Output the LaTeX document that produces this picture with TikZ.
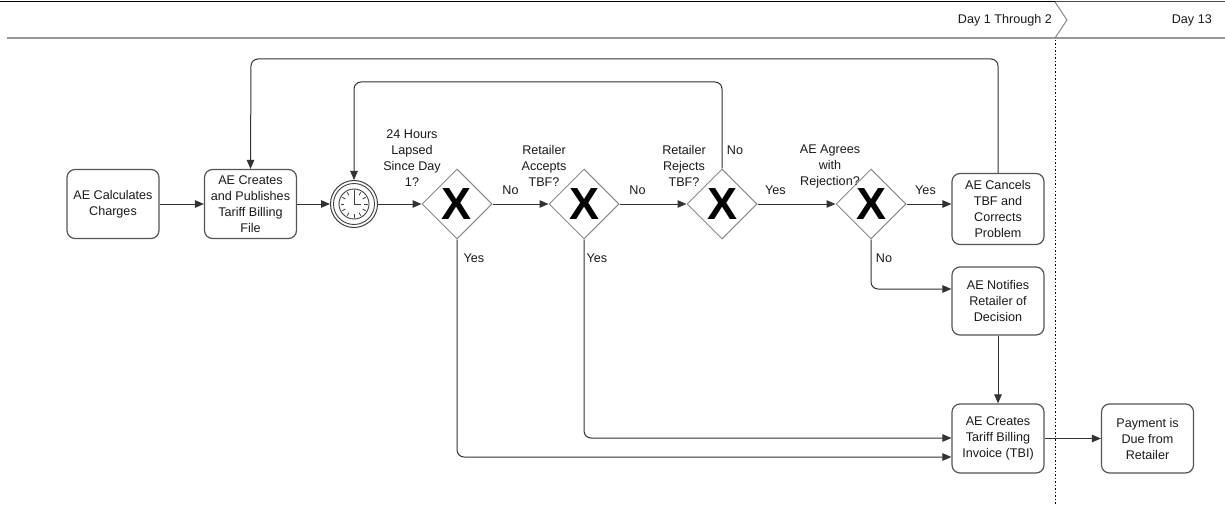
\documentclass[tikz,border=0pt]{standalone}
\usepackage{fontspec}
\setmainfont{Liberation Sans}
\usetikzlibrary{arrows.meta,calc,shapes.geometric}
\definecolor{boxc}{HTML}{555555}
\definecolor{gwc}{HTML}{8A8A8A}
\definecolor{linec}{HTML}{333333}
\definecolor{txtc}{HTML}{1A1A1A}
\begin{document}
\begin{tikzpicture}[x=1pt,y=-1pt,
  font=\fontsize{12.6}{16}\selectfont, text=txtc,
  task/.style={draw=boxc, line width=1.2pt, rounded corners=8pt, fill=white,
    minimum width=92pt, minimum height=69pt, align=center, inner sep=0pt},
  gw/.style={draw=gwc, line width=1pt, shape=diamond, aspect=1, fill=white,
    minimum width=70pt, minimum height=70pt, inner sep=0pt},
  gwx/.style={font=\fontsize{45}{45}\selectfont\bfseries, text=black, inner sep=0pt},
  flow/.style={draw=linec, line width=1pt, rounded corners=7pt,
    -{Triangle[length=9pt,width=7.5pt]}},
  lbl/.style={align=center, inner sep=0pt},
  flbl/.style={inner sep=0pt},
]
\useasboundingbox (0,0) rectangle (1225,505);
\fill[white] (0,0) rectangle (1225,505);

% header
\draw[line width=1.5pt, black] (0,1.5) -- (1055,1.5);
\draw[line width=0.8pt, black!70] (1055,1.5) -- (1225,1.5);
\draw[line width=1.8pt, gray!80] (7,38) -- (1225,38);
\draw[line width=0.9pt, gray] (1055,2) -- (1067,20) -- (1055,38);
\node[anchor=east, inner sep=0pt] (d12) at (1052,20) {Day 1 Through 2};
\node[anchor=east, inner sep=0pt] (d13) at (1212,20) {Day 13};
\coordinate (dtop) at (1055,40);
\coordinate (dbot) at (1055,505);
\draw[line width=1pt, black, dash pattern=on 1.5pt off 2pt] (dtop) -- (dbot);

% tasks
\node[task] (calc) at (113,204) {AE Calculates\\Charges};
\node[task] (pub) at (250.5,204) {AE Creates\\and Publishes\\Tariff Billing\\File};
\node[task, minimum height=71pt] (cancel) at (998,209) {AE Cancels\\TBF and\\Corrects\\Problem};
\node[task, minimum height=68pt] (notify) at (998,301) {AE Notifies\\Retailer of\\Decision};
\node[task] (tbi) at (998,438.5) {AE Creates\\Tariff Billing\\Invoice (TBI)};
\node[task] (pay) at (1147.5,438.5) {Payment is\\Due from\\Retailer};

% timer
\node[circle, draw=black!75, line width=1pt, minimum size=47pt, inner sep=0pt, fill=white] (timer) at (354,204) {};
\draw[black!75, line width=0.9pt] (timer.center) circle (20.5);
\draw[black!75, line width=0.9pt] (timer.center) circle (15);
\foreach \a in {0,30,...,330}
  \draw[black!75, line width=0.8pt] ($(timer.center)+(\a:10)$) -- ($(timer.center)+(\a:13.5)$);
\draw[black!75, line width=1pt] (timer.center) -- ++(0,-11);
\draw[black!75, line width=1pt] (timer.center) -- ++(7,0);

% gateways
\node[gw] (g1) at (457,204) {};
\node[gwx] (x1) at (g1.center) {X};
\node[gw] (g2) at (584,204) {};
\node[gwx] (x2) at (g2.center) {X};
\node[gw] (g3) at (722,204) {};
\node[gwx] (x3) at (g3.center) {X};
\node[gw] (g4) at (871,204) {};
\node[gwx] (x4) at (g4.center) {X};

% gateway labels
\node[lbl] (l1) at (412,158) {24 Hours\\Lapsed\\Since Day\\1?};
\node[lbl] (l2) at (544,166) {Retailer\\Accepts\\TBF?};
\node[lbl] (l3) at (684,166) {Retailer\\Rejects\\TBF?};
\node[lbl] (l4) at (830,166) {AE Agrees\\with\\Rejection?};

% flows
\draw[flow] (calc.east) -- (pub.west);
\draw[flow] (pub.east) -- (timer.west);
\draw[flow] (timer.east) -- (g1.west);
\draw[flow] (g1.east) -- (g2.west);
\node[flbl] (n1) at ($(g1.east)+(18,-14)$) {No};
\draw[flow] (g2.east) -- (g3.west);
\node[flbl] (n2) at ($(g2.east)+(18,-14)$) {No};
\draw[flow] (g3.east) -- (g4.west);
\node[flbl] (y3) at ($(g3.east)+(18,-14)$) {Yes};
\draw[flow] (g4.east) -- (g4.east -| cancel.west);
\node[flbl] (y4) at ($(g4.east)+(19,-14)$) {Yes};
\draw[flow] (g4.south) |- (notify.west |- 0,289);
\node[flbl] (n4) at (884,258) {No};
\draw[flow] (g3.north) |- (354,82) -- (timer.north);
\node[flbl] (n3) at (735,150) {No};
\draw[flow] (cancel.north) |- (251,59) -- (pub.north);
\draw[flow] (notify.south) -- (tbi.north);
\draw[flow] (g2.south) |- (tbi.west |- 0,438);
\node[flbl] (y2) at (597,258) {Yes};
\draw[flow] (g1.south) |- (tbi.west |- 0,457);
\node[flbl] (y1) at (474,258) {Yes};
\draw[flow] (tbi.east) -- (pay.west);
\end{tikzpicture}
\end{document}
